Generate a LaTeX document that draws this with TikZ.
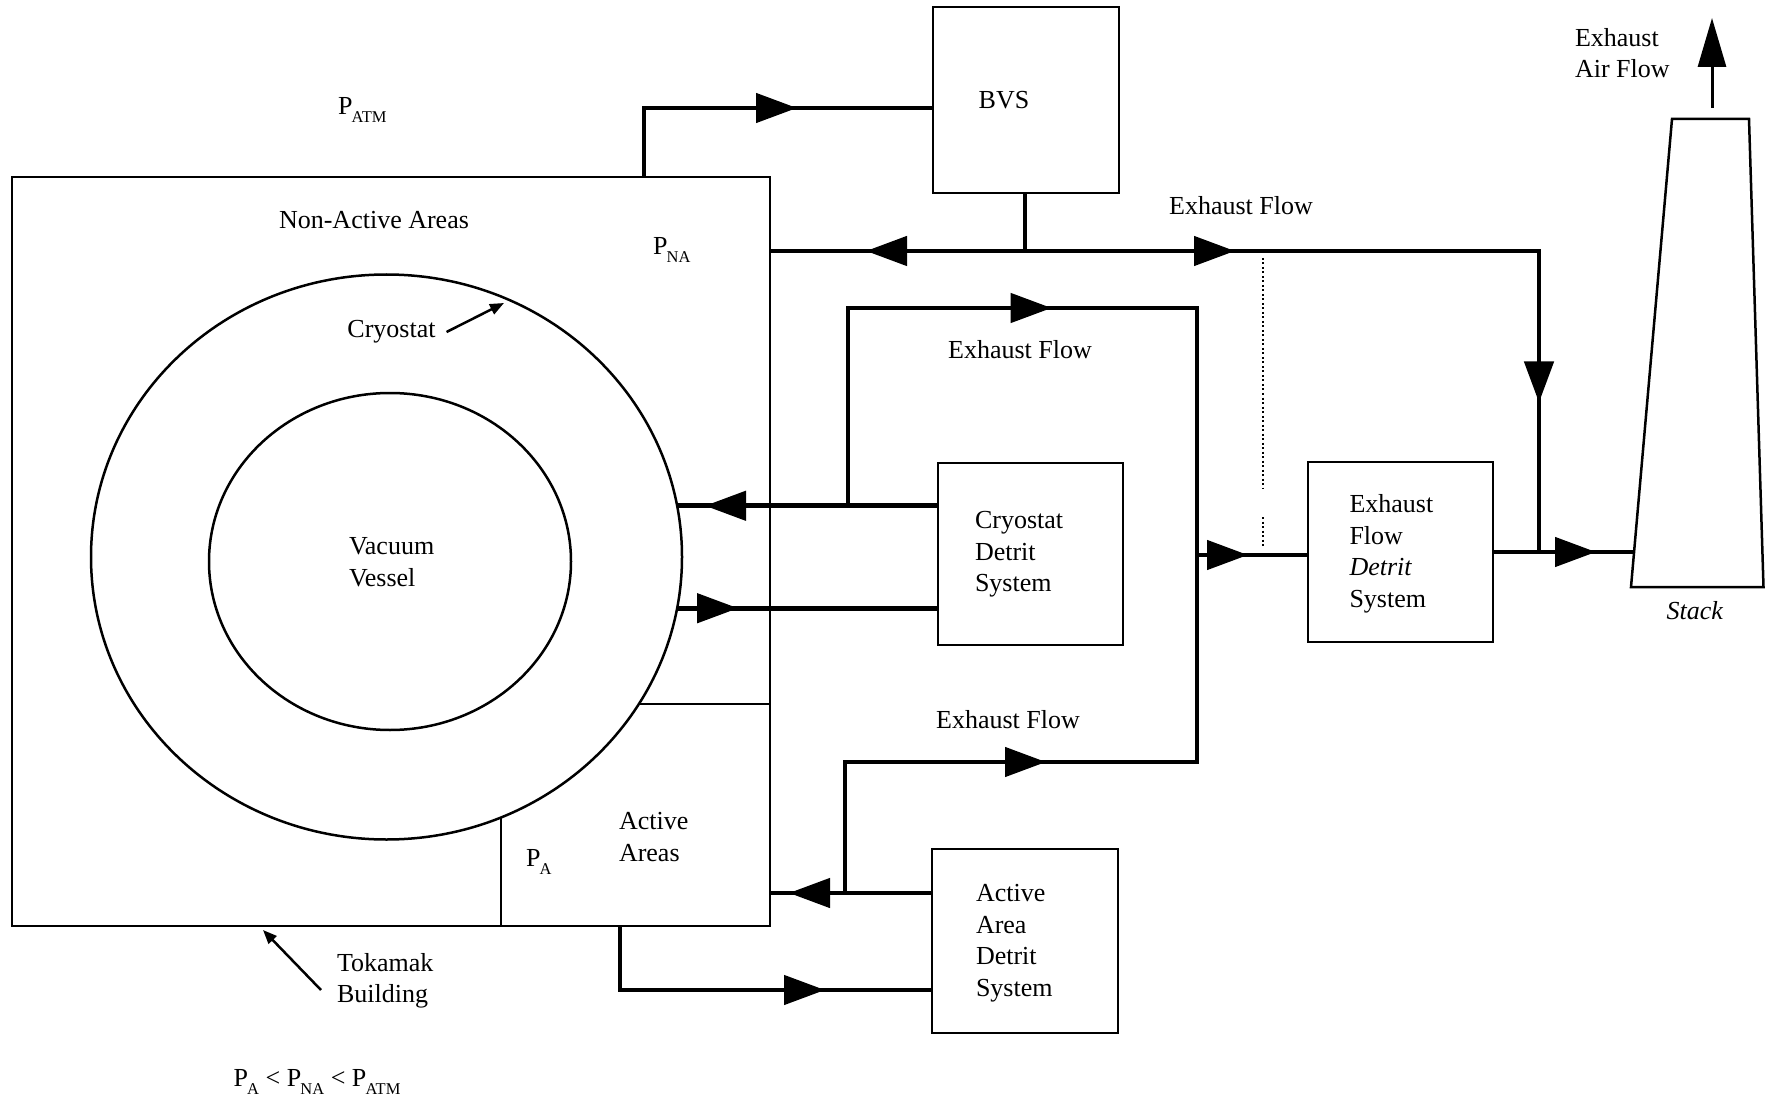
\documentclass[tikz,border=0pt]{standalone}
\usepackage{fontspec}
\setmainfont{Liberation Serif}
\usetikzlibrary{arrows.meta,shapes.geometric,decorations.markings}
\newcommand{\Psb}[1]{P\kern-0.03em\raisebox{-0.32em}{\fontsize{16.5}{16.5}\selectfont #1}}
\begin{document}
\begin{tikzpicture}[x=1pt,y=-1pt,
  every node/.style={font=\fontsize{26}{31.5}\selectfont, inner sep=0pt, outer sep=0pt},
  box/.style={draw, line width=2.5pt, inner sep=0pt, outer sep=0pt},
  thin/.style={line width=2.5pt},
  flow/.style={line width=4.6pt},
  mk/.style={postaction={decorate,decoration={markings,mark=at position #1 with {\arrow{Triangle[length=41pt,width=29pt]}}}}},
  mkk/.style 2 args={postaction={decorate,decoration={markings,
      mark=at position #1 with {\arrow{Triangle[length=41pt,width=29pt]}},
      mark=at position #2 with {\arrow{Triangle[length=41pt,width=29pt]}}}}}]
\useasboundingbox (0,0) rectangle (1765,1099);

% ---- building, cryostat, vessel ----
\node[box, minimum width=758pt, minimum height=749pt] (tok) at (391,551.5) {};
\node[box, ellipse, minimum width=591pt, minimum height=565pt] (cryo) at (386.5,557) {};
\node[box, ellipse, minimum width=362pt, minimum height=337pt] (vv) at (390,561.5) {};
\draw[thin] (640,704) -- (tok.east |- 0,704);
\draw[thin] (tok.south -| 501,0) -- (501,817);

% ---- boxes ----
\node[box, minimum width=186pt, minimum height=186pt] (bvs) at (1026,100) {};
\node at (1004,100) {BVS};
\node[box, minimum width=185pt, minimum height=182pt] (cds) at (1030.5,554) {};
\node[anchor=west, align=left] at (975,554.5) {Cryostat\\Detrit\\System};
\node[box, minimum width=185pt, minimum height=180pt] (efd) at (1400.5,552) {};
\node[anchor=west, align=left] at (1349.5,554) {Exhaust\\Flow\\\textit{Detrit}\\System};
\node[box, minimum width=186pt, minimum height=184pt] (aad) at (1025,941) {};
\node[anchor=west, align=left] at (976,943) {Active\\Area\\Detrit\\System};

% ---- stack ----
\draw[thin] (1672,119) -- (1749,119) -- (1763.5,587) -- (1631,587) -- cycle;
\coordinate (stackin) at (1634,552);
\coordinate (airfrom) at (1712,108);
\coordinate (airtip) at (1712,18);
\draw[line width=3pt, -{Triangle[length=49pt,width=28pt]}] (airfrom) -- (airtip);
\node[anchor=west, align=left] at (1575,53) {Exhaust\\Air Flow};
\node at (1695,611) {\textit{Stack}};

% ---- labels ----
\node[anchor=west] at (338,110) {\Psb{ATM}};
\node at (374,220) {Non-Active Areas};
\node[anchor=west] at (653,250) {\Psb{NA}};
\node (cryol) at (391.5,332) {Cryostat};
\coordinate (cryotip) at (504,303);
\draw[thin, -{Triangle[length=14pt,width=11pt]}] ([xshift=11pt]cryol.east) -- (cryotip);
\node[anchor=west, align=left] at (349,562) {Vacuum\\Vessel};
\node[anchor=west, align=left] at (619,837) {Active\\Areas};
\node[anchor=west] at (526,862) {\Psb{A}};
\node[anchor=west, align=left] (tokl) at (337,981) {Tokamak\\Building};
\coordinate (toktip) at (263,930);
\draw[thin, -{Triangle[length=14pt,width=11pt]}] (321,990) -- (toktip);
\node at (317,1082) {\Psb{A} < \Psb{NA} < \Psb{ATM}};
\node at (1241,206) {Exhaust Flow};
\node at (1020,350) {Exhaust Flow};
\node at (1008,720) {Exhaust Flow};

% ---- flows ----
\draw[flow, mk=222pt] (tok.north -| 644,0) |- (bvs.west |- 0,108);
\coordinate (j1) at (1025,251);
\coordinate (j2) at (1539,552);
\coordinate (j3) at (1197,555);
\draw[flow] (bvs.south -| j1) -- (j1);
\draw[flow, mk=159pt] (j1) -- (tok.east |- j1);
\draw[flow, mkk={210pt}{665.5pt}] (j1) -| (j2);
\draw[flow, mk=103pt] (efd.east |- j2) -- (stackin);
\draw[line width=2pt, dash pattern=on 2pt off 2.5pt] (1263,258) -- (1263,488);
\draw[line width=2pt, dash pattern=on 2pt off 2.5pt] (1263,517) -- (1263,547);

\draw[flow, mk=233pt] (cds.west |- cryo.10) -- (cryo.10);
\draw[flow, mk=401.4pt] (848,0 |- cryo.10) |- (1197,308) -- (j3);
\draw[flow, mk=61pt] (cryo.-10) -- (cds.west |- cryo.-10);
\draw[flow, mk=51pt] (j3) -- (efd.west |- j3);

\draw[flow, mk=143pt] (aad.west |- 0,893) -- (tok.east |- 0,893);
\draw[flow, mk=332pt] (845,893) |- (1197,762) -- (j3);
\draw[flow, mk=269pt] (tok.south -| 620,0) |- (aad.west |- 0,990);
\end{tikzpicture}
\end{document}
